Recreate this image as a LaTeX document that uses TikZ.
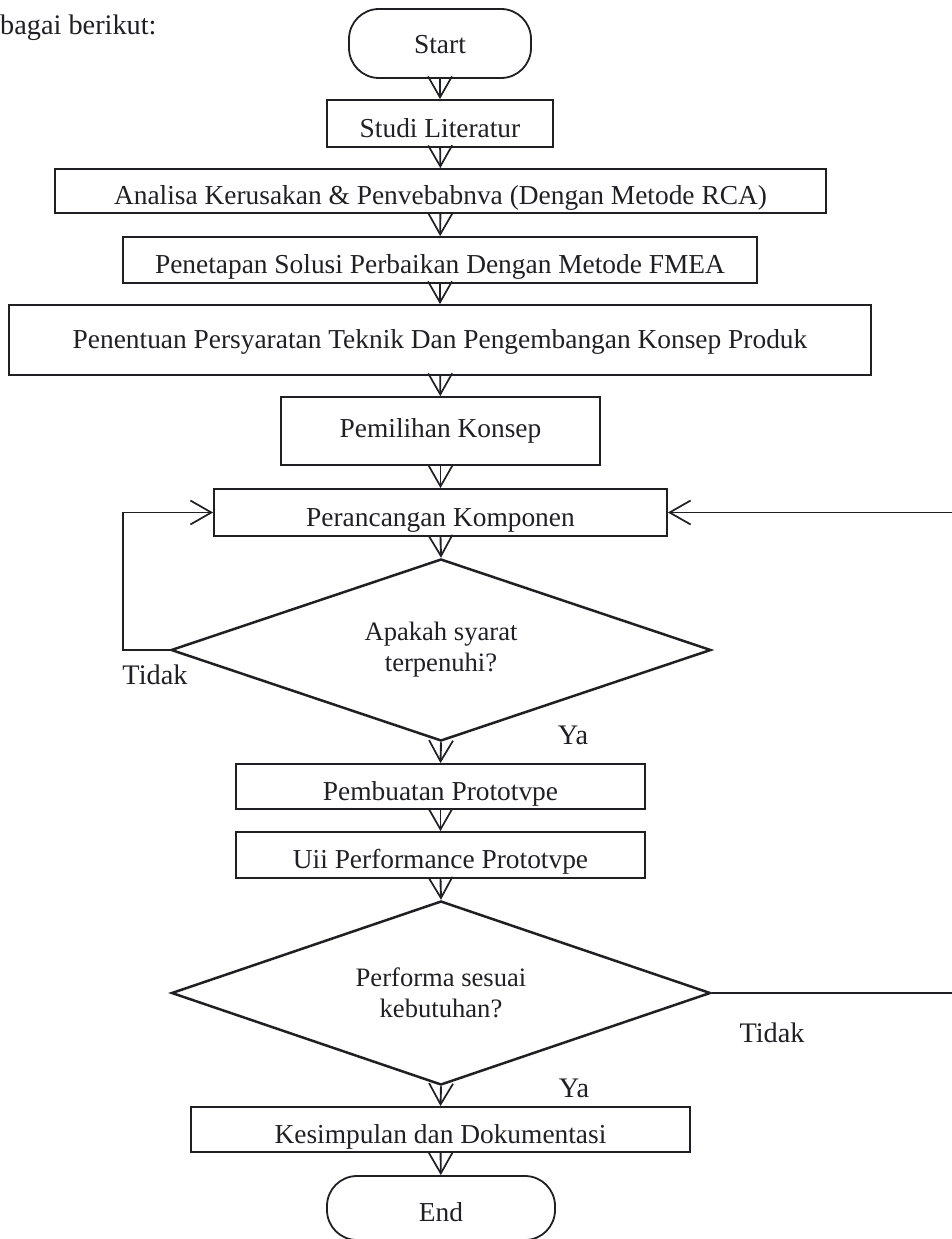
\documentclass[tikz,border=0pt]{standalone}
\usepackage{fontspec}
\setmainfont{Liberation Serif}
\usetikzlibrary{arrows.meta,shapes.geometric}
\definecolor{ink}{RGB}{32,32,36}
\begin{document}
\begin{tikzpicture}[x=1pt,y=-1pt,
  ink/.style={draw=ink, text=ink},
  stepbox/.style={ink, rectangle, line width=1.8pt, inner sep=0pt,
    text height=27pt, text depth=0pt,
    font=\fontsize{27.4}{30}\selectfont},
  term/.style={stepbox, rounded corners=30pt},
  decision/.style={ink, diamond, aspect=2.95, line width=2.5pt, inner sep=0pt,
    align=center, font=\fontsize{26.6}{31}\selectfont},
  flow/.style={draw=ink, line width=1.9pt,
    -{Straight Barb[length=21pt,width=24pt,line width=1.7pt]}},
  lbl/.style={font=\fontsize{28.3}{30}\selectfont, text=ink, inner sep=0pt}]
\useasboundingbox (0,0) rectangle (951,1239);

% heading text
\node[lbl, anchor=base west] (intro) at (0,35) {bagai berikut:};

% process steps
\node[term, minimum width=182pt, minimum height=69pt, text height=21pt] (start) at (440,43.5) {Start};
\node[stepbox, minimum width=226pt, minimum height=47pt] (studi) at (440,123.5) {Studi Literatur};
\node[stepbox, minimum width=771pt, minimum height=44pt] (rca) at (440.5,191) {Analisa Kerusakan \& Penvebabnva (Dengan Metode RCA)};
\node[stepbox, minimum width=634pt, minimum height=46pt] (fmea) at (440,260) {Penetapan Solusi Perbaikan Dengan Metode FMEA};
\node[stepbox, minimum width=862pt, minimum height=70pt, text height=16pt] (req) at (440,340) {Penentuan Persyaratan Teknik Dan Pengembangan Konsep Produk};
\node[stepbox, minimum width=319pt, minimum height=68pt, text height=12pt] (pilih) at (440.5,431) {Pemilihan Konsep};
\node[stepbox, minimum width=453pt, minimum height=47pt] (ranc) at (440.5,512.5) {Perancangan Komponen};
\node[decision, minimum width=540pt, minimum height=182pt] (cek1) at (441,650) {Apakah syarat\\terpenuhi?};
\node[stepbox, minimum width=409pt, minimum height=45pt] (proto) at (440.5,786.5) {Pembuatan Prototvpe};
\node[stepbox, minimum width=409pt, minimum height=46pt] (uji) at (440.5,855) {Uii Performance Prototvpe};
\node[decision, minimum width=539pt, minimum height=184pt] (cek2) at (441,993) {Performa sesuai\\kebutuhan?};
\node[stepbox, minimum width=499pt, minimum height=45pt] (simpul) at (440.5,1129.5) {Kesimpulan dan Dokumentasi};
\node[term, minimum width=228pt, minimum height=64pt] (end) at (441,1208) {End};

% branch labels
\node[lbl] (tidak1) at (155,675) {Tidak};
\node[lbl] (ya1) at (573,735) {Ya};
\node[lbl] (tidak2) at (772,1033) {Tidak};
\node[lbl] (ya2) at (574,1088) {Ya};

% main flow
\draw[flow] (start) -- (studi);
\draw[flow] (studi) -- (rca);
\draw[flow] (rca) -- (fmea);
\draw[flow] (fmea) -- (req);
\draw[flow] (req) -- (pilih);
\draw[flow] (pilih) -- (ranc);
\draw[flow] (ranc.south) -- (cek1.north);
\draw[flow] (cek1.south) -- (proto.north);
\draw[flow] (proto) -- (uji);
\draw[flow] (uji.south) -- (cek2.north);
\draw[flow] (cek2.south) -- (simpul.north);
\draw[flow] (simpul) -- (end);

% loops back to the design step
\coordinate (lloop) at (123,650);
\coordinate (rloop) at (955,993);
\draw[flow] (cek1.west) -- (lloop) |- (ranc.west);
\draw[flow] (cek2.east) -- (rloop) |- (ranc.east);
\end{tikzpicture}
\end{document}
